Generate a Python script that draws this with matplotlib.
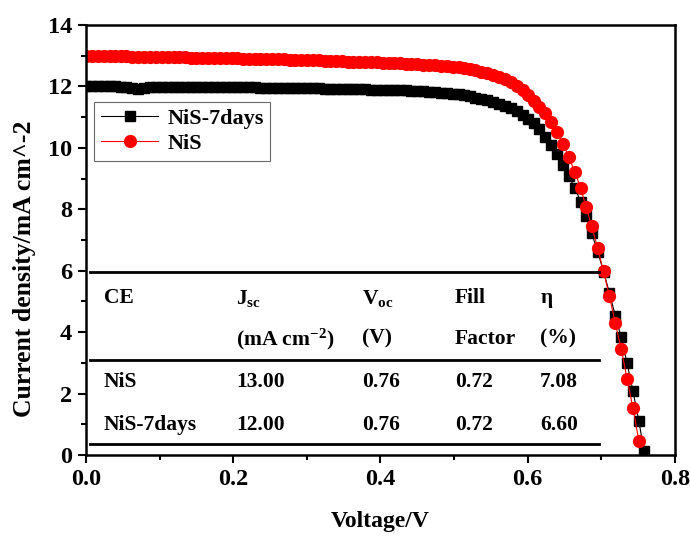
import matplotlib
matplotlib.use("Agg")
import matplotlib.pyplot as plt
from matplotlib.ticker import MultipleLocator

plt.rcParams["font.family"] = ["Liberation Serif", "DejaVu Serif"]
plt.rcParams["font.weight"] = "bold"
plt.rcParams["mathtext.fontset"] = "custom"
plt.rcParams["mathtext.rm"] = "Liberation Serif:bold"
plt.rcParams["mathtext.bf"] = "Liberation Serif:bold"
plt.rcParams["mathtext.it"] = "Liberation Serif:bold"

# Voltage sweep (V)
voltage = [
    0.000, 0.008, 0.016, 0.024, 0.032, 0.040, 0.047, 0.055, 0.063, 0.071,
    0.079, 0.087, 0.095, 0.103, 0.111, 0.119, 0.126, 0.134, 0.142, 0.150,
    0.158, 0.166, 0.174, 0.182, 0.190, 0.198, 0.205, 0.213, 0.221, 0.229,
    0.237, 0.245, 0.253, 0.261, 0.269, 0.277, 0.284, 0.292, 0.300, 0.308,
    0.316, 0.324, 0.332, 0.340, 0.348, 0.356, 0.363, 0.371, 0.379, 0.387,
    0.395, 0.403, 0.411, 0.419, 0.427, 0.435, 0.442, 0.450, 0.458, 0.466,
    0.474, 0.482, 0.490, 0.498, 0.506, 0.514, 0.521, 0.529, 0.537, 0.545,
    0.553, 0.561, 0.569, 0.577, 0.585, 0.593, 0.600, 0.608, 0.616, 0.624,
    0.632, 0.640, 0.648, 0.656, 0.664, 0.672, 0.679, 0.687, 0.695, 0.703,
    0.711, 0.719, 0.727, 0.735, 0.743, 0.751, 0.758,
]

# Current density (mA cm^-2), aged electrode
j_nis_7days = [
    12.00, 12.00, 12.00, 12.00, 12.00, 12.00, 11.99, 11.99, 11.96, 11.93,
    11.96, 11.99, 11.99, 11.99, 11.99, 11.99, 11.99, 11.99, 11.99, 11.98,
    11.98, 11.98, 11.98, 11.98, 11.98, 11.97, 11.97, 11.97, 11.97, 11.97,
    11.96, 11.96, 11.96, 11.96, 11.95, 11.95, 11.95, 11.95, 11.94, 11.94,
    11.94, 11.93, 11.93, 11.93, 11.92, 11.92, 11.92, 11.91, 11.91, 11.90,
    11.90, 11.90, 11.89, 11.89, 11.88, 11.87, 11.86, 11.85, 11.84, 11.83,
    11.82, 11.80, 11.78, 11.76, 11.74, 11.71, 11.68, 11.64, 11.60, 11.55,
    11.50, 11.44, 11.37, 11.29, 11.19, 11.08, 10.95, 10.80, 10.60, 10.37,
    10.10, 9.80, 9.45, 9.07, 8.69, 8.25, 7.78, 7.22, 6.62, 5.97,
    5.28, 4.53, 3.83, 2.99, 2.07, 1.10, 0.13,
]

# Current density (mA cm^-2), fresh electrode
j_nis = [
    13.00, 13.00, 12.99, 12.99, 12.99, 12.98, 12.98, 12.98, 12.97, 12.97,
    12.97, 12.97, 12.96, 12.96, 12.96, 12.95, 12.95, 12.95, 12.94, 12.94,
    12.94, 12.93, 12.93, 12.93, 12.92, 12.92, 12.92, 12.91, 12.91, 12.90,
    12.90, 12.89, 12.89, 12.88, 12.88, 12.87, 12.87, 12.86, 12.86, 12.85,
    12.85, 12.84, 12.83, 12.83, 12.82, 12.81, 12.81, 12.80, 12.79, 12.79,
    12.78, 12.77, 12.76, 12.76, 12.75, 12.74, 12.73, 12.72, 12.71, 12.70,
    12.69, 12.68, 12.66, 12.64, 12.62, 12.59, 12.56, 12.52, 12.48, 12.43,
    12.38, 12.31, 12.23, 12.13, 12.01, 11.87, 11.71, 11.53, 11.33, 11.13,
    10.83, 10.51, 10.13, 9.70, 9.21, 8.69, 8.09, 7.44, 6.73, 5.98,
    5.17, 4.29, 3.45, 2.48, 1.52, 0.46,
]

# Photovoltaic parameters table
table_header_1 = ["CE", r"$\mathbf{J}_{\mathbf{sc}}$", r"$\mathbf{V}_{\mathbf{oc}}$", "Fill", "η"]
table_header_2 = ["", r"(mA cm$^{\mathbf{-2}}$)", "(V)", "Factor", "(%)"]
table_rows = [
    ["NiS", "13.00", "0.76", "0.72", "7.08"],
    ["NiS-7days", "12.00", "0.76", "0.72", "6.60"],
]

fig = plt.figure(figsize=(6.9, 5.37), dpi=100)
ax = fig.add_axes([0.1246, 0.1527, 0.8536, 0.8007])

ax.plot(voltage, j_nis_7days, color="black", marker="s", markersize=7,
        linewidth=0.8, label="NiS-7days")
ax.plot(voltage[:len(j_nis)], j_nis, color="red", marker="o", markersize=8.5,
        linewidth=0.8, label="NiS")

ax.set_xlim(0, 0.8)
ax.set_ylim(0, 14)
ax.xaxis.set_major_locator(MultipleLocator(0.2))
ax.xaxis.set_minor_locator(MultipleLocator(0.1))
ax.yaxis.set_major_locator(MultipleLocator(2))
ax.yaxis.set_minor_locator(MultipleLocator(1))
ax.xaxis.set_major_formatter(plt.FuncFormatter(lambda v, p: f"{v:.1f}"))
ax.tick_params(which="both", direction="out", width=1.5, labelsize=17.5,
               top=False, right=False)
ax.tick_params(which="major", length=6, pad=4)
ax.tick_params(which="minor", length=3.5)
for lbl in ax.get_xticklabels() + ax.get_yticklabels():
    lbl.set_fontweight("bold")
for sp in ax.spines.values():
    sp.set_linewidth(1.8)

ax.set_xlabel("Voltage/V", fontsize=17, fontweight="bold", labelpad=15)
ax.set_ylabel("Current density/mA cm^-2", fontsize=18.5, fontweight="bold")
ax.yaxis.set_label_coords(-0.085, 0.433)

leg = ax.legend(loc="upper left", bbox_to_anchor=(0.0136, 0.821), fontsize=16,
                frameon=True, fancybox=False, handlelength=2.6,
                borderpad=0.3, labelspacing=0.2, handletextpad=0.4,
                borderaxespad=0)
leg.get_frame().set_edgecolor("#444444")
leg.get_frame().set_linewidth(0.8)
for t in leg.get_texts():
    t.set_fontweight("bold")

# table rules
for yline in [5.96, 3.09, 0.36]:
    ax.plot([0.005, 0.697], [yline, yline], color="black", linewidth=2)

col_x = [0.0244, 0.204, 0.375, 0.501, 0.617]
row_y = [5.11, 3.78, 2.38, 0.98]
all_rows = [table_header_1, table_header_2] + table_rows
for r, row in enumerate(all_rows):
    for c, txt in enumerate(row):
        ax.text(col_x[c], row_y[r], txt, fontsize=15.5, fontweight="bold",
                ha="left", va="center")

fig.savefig("out.png", dpi=100)
